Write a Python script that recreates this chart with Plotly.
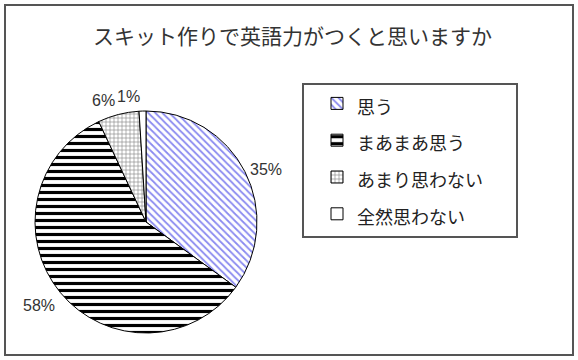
import math
import plotly.graph_objects as go

title_text = "スキット作りで英語力がつくと思いますか"
labels = ["思う", "まあまあ思う", "あまり思わない", "全然思わない"]
values = [35, 58, 6, 1]
pct_labels = ["35%", "58%", "6%", "1%"]

W, H = 578, 360
cx, cy, R = 146, 222, 111  # pie centre / radius in px

shapes_ = ["\\", "-", "+", ""]
fg = ["#8a8af0", "#000000", "#8a8a8a", "#000000"]
sizes = [5, 7, 4, 6]
solid = [0.35, 0.45, 0.3, 0.3]

legend_labels = ["<span style='font-size:18px'>%s</span>" % l for l in labels]

fig = go.Figure()
fig.add_trace(go.Pie(
    labels=legend_labels, values=values, sort=False, direction="clockwise", rotation=0,
    textinfo="none", hoverinfo="percent",
    domain=dict(x=[(cx - R) / W, (cx + R) / W], y=[1 - (cy + R) / H, 1 - (cy - R) / H]),
    marker=dict(colors=["white"] * 4, line=dict(color="#000000", width=1),
                pattern=dict(shape=shapes_, fgcolor=fg, bgcolor=["white"] * 4,
                             size=sizes, solidity=solid)),
))

# percentage labels placed outside slices, computed from the data
total = sum(values)
cum = 0
anns = []
for v, t in zip(values, pct_labels):
    mid = (cum + v / 2) / total * 2 * math.pi
    cum += v
    dx, dy = math.sin(mid), -math.cos(mid)
    r = R + 4
    px, py = cx + dx * r, cy + dy * r
    xa = "left" if dx > 0.2 else ("right" if dx < -0.02 else "center")
    ya = "middle" if abs(dy) < 0.5 else ("bottom" if dy < 0 else "top")
    anns.append(dict(x=px / W, y=1 - py / H, xref="paper", yref="paper", text=t,
                     showarrow=False, xanchor=xa, yanchor=ya,
                     font=dict(size=16, color="#333333", family="Liberation Sans, Arial")))

anns.append(dict(x=292 / W, y=1 - 35 / H, xref="paper", yref="paper", text=title_text,
                 showarrow=False, xanchor="center", yanchor="middle",
                 font=dict(size=21, color="#333333", family="Noto Sans CJK JP")))

fig.update_layout(
    width=W, height=H, margin=dict(l=0, r=0, t=0, b=0),
    paper_bgcolor="white", plot_bgcolor="white",
    annotations=anns,
    showlegend=True,
    legend=dict(x=317 / W, y=1 - 80 / H, xanchor="left", yanchor="top",
                bgcolor="rgba(0,0,0,0)", borderwidth=0,
                font=dict(size=26, color="#222222", family="Noto Sans CJK JP"),
                tracegroupgap=0, itemwidth=30),
    shapes=[
        dict(type="rect", xref="paper", yref="paper", x0=5 / W, x1=573 / W,
             y0=1 - 355 / H, y1=1 - 5 / H, line=dict(color="#555555", width=2)),
        dict(type="rect", xref="paper", yref="paper", x0=303 / W, x1=517 / W,
             y0=1 - 237 / H, y1=1 - 84 / H, line=dict(color="#555555", width=2)),
    ],
)

fig.write_html("out.html")
